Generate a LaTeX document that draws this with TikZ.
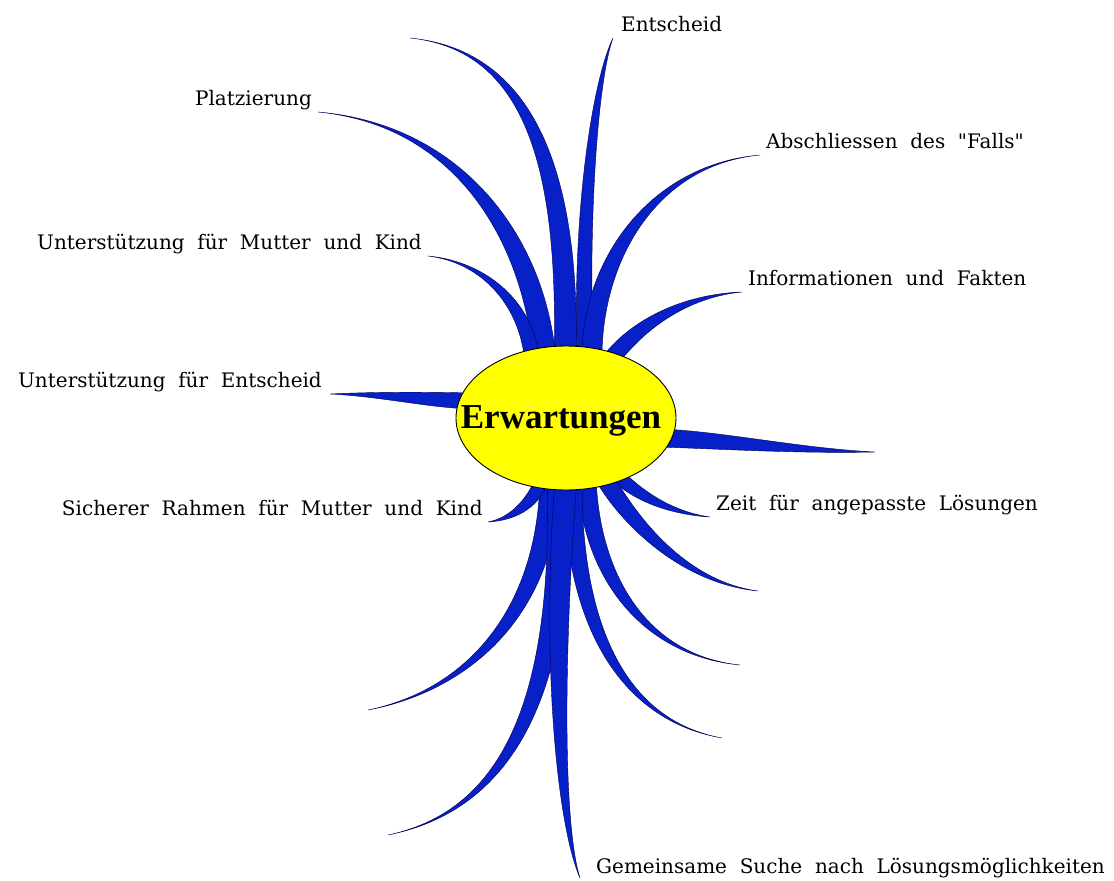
\documentclass[tikz,border=0pt]{standalone}
\usepackage{fontspec}
\usetikzlibrary{calc}
\newfontfamily\labfont{DejaVu Serif}[WordSpace=2]
\newfontfamily\titlefont{Liberation Serif}
\definecolor{branchblue}{RGB}{8,32,200}
\definecolor{hubyellow}{RGB}{255,255,0}
\tikzset{
  branchshape/.style={fill=branchblue, draw=black!70!blue, line width=0.4pt},
  hub/.style={fill=hubyellow, draw=black, line width=0.9pt},
  title/.style={font=\titlefont\bfseries\fontsize{35}{40}\selectfont, inner sep=0pt},
  lab/.style={font=\labfont\fontsize{20}{24}\selectfont, inner sep=0pt},
  lableft/.style={lab, anchor=base east},
  labright/.style={lab, anchor=base west}
}
% tapered branch: base, control 1, control 2, tip, half width at base
\newcommand{\branch}[5]{%
  \filldraw[branchshape] ($#1+#5$) .. controls ($#2+#5$) and ($#3+0.3*#5$) .. #4
    .. controls ($#3-0.3*#5$) and ($#2-#5$) .. ($#1-#5$) -- cycle;}
\begin{document}
\begin{tikzpicture}[x=1pt,y=-1pt]
\useasboundingbox (0,0) rectangle (1114,881);

% tips of the branches
\coordinate (tTop)    at (410,38);
\coordinate (tEnt)    at (613,38);
\coordinate (tPlatz)  at (318,112);
\coordinate (tAbs)    at (760,155);
\coordinate (tMutter) at (428,256);
\coordinate (tInfo)   at (742,292);
\coordinate (tUEnt)   at (330,394);
\coordinate (tRight)  at (875,452);
\coordinate (tRahmen) at (488,522);
\coordinate (tZeit)   at (710,517);
\coordinate (tA)      at (758,591);
\coordinate (tB)      at (740,665);
\coordinate (tC)      at (722,738);
\coordinate (tD)      at (368,710);
\coordinate (tE)      at (388,835);
\coordinate (tSuche)  at (580,878);

% branches
\branch{(565,362)}{(570,170)}{(530,50)}{(tTop)}{(11,0)}
\branch{(545,362)}{(535,240)}{(460,125)}{(tPlatz)}{(11,-2)}
\branch{(532,362)}{(528,305)}{(485,262)}{(tMutter)}{(7,-2)}
\branch{(585,362)}{(580,200)}{(597,75)}{(tEnt)}{(8,0)}
\branch{(592,362)}{(590,265)}{(650,165)}{(tAbs)}{(10,1)}
\branch{(605,368)}{(630,330)}{(680,296)}{(tInfo)}{(6,6)}
\branch{(472,401)}{(430,400)}{(380,394)}{(tUEnt)}{(0,8)}
\branch{(660,438)}{(720,440)}{(800,451)}{(tRight)}{(0,9)}
\branch{(612,470)}{(635,495)}{(670,513)}{(tZeit)}{(-5,5)}
\branch{(603,475)}{(625,515)}{(680,582)}{(tA)}{(8,-4)}
\branch{(587,478)}{(590,570)}{(640,655)}{(tB)}{(9,-1)}
\branch{(573,478)}{(572,620)}{(620,720)}{(tC)}{(9,0)}
\branch{(550,478)}{(548,610)}{(470,690)}{(tD)}{(10,1)}
\branch{(558,478)}{(565,710)}{(500,812)}{(tE)}{(11,0)}
\branch{(566,478)}{(552,660)}{(560,825)}{(tSuche)}{(11,0)}
\branch{(543,478)}{(532,505)}{(512,519)}{(tRahmen)}{(5,5)}

% centre
\filldraw[hub] (566,418) ellipse [x radius=110, y radius=72];
\node[title, anchor=base] (erw) at (561,428) {Erwartungen};

% labels
\node[labright] (ent)    at ($(tEnt)+(8,-7)$)    {Entscheid};
\node[lableft]  (platz)  at ($(tPlatz)+(-6,-7)$) {Platzierung};
\node[labright] (abs)    at ($(tAbs)+(6,-7)$)    {Abschliessen des "Falls"};
\node[lableft]  (mutter) at ($(tMutter)+(-6,-7)$) {Unterstützung für Mutter und Kind};
\node[labright] (info)   at ($(tInfo)+(6,-7)$)   {Informationen und Fakten};
\node[lableft]  (uent)   at ($(tUEnt)+(-8,-7)$)  {Unterstützung für Entscheid};
\node[lableft]  (rahmen) at ($(tRahmen)+(-5,-7)$) {Sicherer Rahmen für Mutter und Kind};
\node[labright] (zeit)   at ($(tZeit)+(6,-7)$)   {Zeit für angepasste Lösungen};
\node[labright] (suche)  at ($(tSuche)+(16,-5)$) {Gemeinsame Suche nach Lösungsmöglichkeiten};
\end{tikzpicture}
\end{document}
